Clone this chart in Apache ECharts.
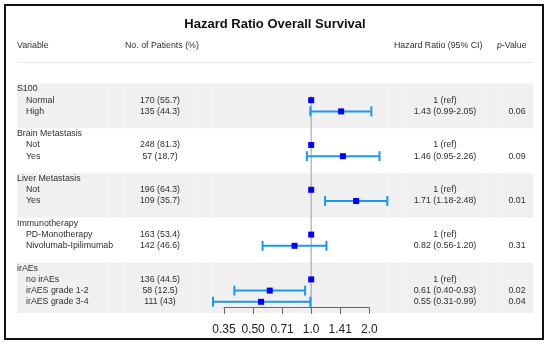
<!DOCTYPE html>
<html><head><meta charset="utf-8">
<script src="https://cdn.jsdelivr.net/npm/echarts@6/dist/echarts.min.js"></script>
<style>html,body{margin:0;padding:0;background:#fff}#c{width:550px;height:345px}</style>
</head><body><div id="c"></div>
<script>
// ---- data ----
const groups = ['S100', 'Brain Metastasis', 'Liver Metastasis', 'Immunotherapy', 'irAEs'];
const levels = [
  ['Normal', 'High'],
  ['Not', 'Yes'],
  ['Not', 'Yes'],
  ['PD-Monotherapy', 'Nivolumab-Ipilimumab'],
  ['no irAEs', 'irAES grade 1-2', 'irAES grade 3-4']
];
const patients = [
  ['170 (55.7)', '135 (44.3)'],
  ['248 (81.3)', '57 (18.7)'],
  ['196 (64.3)', '109 (35.7)'],
  ['163 (53.4)', '142 (46.6)'],
  ['136 (44.5)', '58 (12.5)', '111 (43)']
];
const hazardRatio = [[1, 1.43], [1, 1.46], [1, 1.71], [1, 0.82], [1, 0.61, 0.55]];
const ciLower = [[null, 0.99], [null, 0.95], [null, 1.18], [null, 0.56], [null, 0.40, 0.31]];
const ciUpper = [[null, 2.05], [null, 2.26], [null, 2.48], [null, 1.20], [null, 0.93, 0.99]];
const pValues = [['', '0.06'], ['', '0.09'], ['', '0.01'], ['', '0.31'], ['', '0.02', '0.04']];
const tickValues = [0.35, 0.50, 0.71, 1.0, 1.41, 2.0];
const tickLabels = ['0.35', '0.50', '0.71', '1.0', '1.41', '2.0'];
const headers = ['Variable', 'No. of Patients (%)', 'Hazard Ratio (95% CI)', '-Value'];
const titleText = 'Hazard Ratio Overall Survival';

// ---- layout helpers ----
const FONT = '"Liberation Sans", Arial, Helvetica, sans-serif';
const TXT = '8.8px ' + FONT;
const TCOL = '#2e2e2e';
const COL = { varGroup: 17, varLevel: 26, patients: 160, hr: 445, p: 517 };
const TABLE_L = 17, TABLE_R = 533;
const SEPS = [108, 124, 197, 212, 387.5, 403, 486, 502];

const rows = [];
groups.forEach((g, gi) => {
  rows.push({ kind: 'group', gi, text: g });
  levels[gi].forEach((lv, li) => rows.push({ kind: 'level', gi, li, text: lv }));
  if (gi < groups.length - 1) rows.push({ kind: 'spacer', gi });
});
const rowCats = rows.map((_, i) => String(i));

const bandData = groups.map((g, gi) => {
  const start = rows.findIndex(r => r.kind === 'group' && r.gi === gi);
  return [1, start, start + levels[gi].length, gi];
});
const ciData = [], sqData = [], textData = [];
rows.forEach((r, i) => {
  if (r.kind === 'spacer') return;
  textData.push([1, i]);
  if (r.kind === 'level') {
    sqData.push([hazardRatio[r.gi][r.li], i]);
    const lo = ciLower[r.gi][r.li], hi = ciUpper[r.gi][r.li];
    if (lo != null) ciData.push([lo, hi, i]);
  }
});
function hrLabel(gi, li) {
  const lo = ciLower[gi][li];
  if (lo == null) return '1 (ref)';
  return hazardRatio[gi][li].toFixed(2) + ' (' + lo.toFixed(2) + '-' + ciUpper[gi][li].toFixed(2) + ')';
}
function txt(text, x, y, align, font) {
  return { type: 'text', style: { text, x, y, align, textAlign: align, verticalAlign: 'middle', textVerticalAlign: 'middle', font: font || TXT, fill: TCOL } };
}

const chart = echarts.init(document.getElementById('c'), null, { renderer: 'canvas' });
const option = {
  animation: false,
  backgroundColor: '#fff',
  title: {
    text: titleText, left: 'center', top: 18, padding: 0,
    textStyle: { fontFamily: FONT, fontSize: 13, fontWeight: 'bold', color: '#111' }
  },
  grid: { left: 224, right: 180.7, top: 83.4, bottom: 37.6, containLabel: false },
  xAxis: {
    type: 'log', logBase: Math.SQRT2, min: Math.pow(Math.SQRT2, -3), max: 2, z: 10,
    axisLine: { show: true, lineStyle: { color: '#666', width: 1 } },
    axisTick: { show: true, length: 6.5, lineStyle: { color: '#666', width: 1 } },
    splitLine: { show: false },
    axisLabel: {
      margin: 16, fontSize: 12, fontFamily: FONT, color: '#222',
      showMinLabel: true, showMaxLabel: true,
      formatter: v => {
        let best = 0;
        tickValues.forEach((t, i) => {
          if (Math.abs(Math.log(t / v)) < Math.abs(Math.log(tickValues[best] / v))) best = i;
        });
        return tickLabels[best];
      }
    }
  },
  yAxis: { type: 'category', inverse: true, data: rowCats, show: false },
  graphic: [
    { type: 'rect', shape: { x: 5, y: 5, width: 538, height: 334 }, style: { fill: null, stroke: '#111', lineWidth: 2 }, z: 100 },
    { type: 'line', shape: { x1: TABLE_L, y1: 62.5, x2: TABLE_R, y2: 62.5 }, style: { stroke: '#ececec', lineWidth: 1 } },
    { type: 'text', x: 17, y: 46, style: { text: headers[0], font: TXT, fill: TCOL, textVerticalAlign: 'middle', verticalAlign: 'middle' } },
    { type: 'text', x: 125, y: 46, style: { text: headers[1], font: TXT, fill: TCOL, textVerticalAlign: 'middle', verticalAlign: 'middle' } },
    { type: 'text', x: 394, y: 46, style: { text: headers[2], font: TXT, fill: TCOL, textVerticalAlign: 'middle', verticalAlign: 'middle' } },
    { type: 'text', x: 497, y: 46, style: { text: 'p', font: 'italic ' + TXT, fill: TCOL, textVerticalAlign: 'middle', verticalAlign: 'middle' } },
    { type: 'text', x: 501.8, y: 46, style: { text: headers[3], font: TXT, fill: TCOL, textVerticalAlign: 'middle', verticalAlign: 'middle' } }
  ],
  series: [
    { // group bands
      type: 'custom', z: 0, silent: true, clip: false,
      encode: { x: 0, y: 1 },
      data: bandData,
      renderItem: (params, api) => {
        const gi = api.value(3);
        if (gi % 2 !== 0) return null;
        const step = api.coord([1, 1])[1] - api.coord([1, 0])[1];
        const start = api.value(1), end = api.value(2);
        const isLast = gi === groups.length - 1;
        const y0 = api.coord([1, start])[1] - step / 2;
        const y1 = api.coord([1, end])[1] + (isLast ? 1.0 : 1.5) * step;
        const children = [{ type: 'rect', shape: { x: TABLE_L, y: y0, width: TABLE_R - TABLE_L, height: y1 - y0 }, style: { fill: '#f0f0f0' } }];
        SEPS.forEach(x => children.push({ type: 'line', shape: { x1: x, y1: y0, x2: x, y2: y1 }, style: { stroke: '#f7f7f7', lineWidth: 1 } }));
        return { type: 'group', children };
      }
    },
    { // reference line at HR = 1
      type: 'custom', z: 3, silent: true, clip: false,
      encode: { x: 0, y: 1 },
      data: [[1, 0]],
      renderItem: (params, api) => {
        const step = api.coord([1, 1])[1] - api.coord([1, 0])[1];
        const p = api.coord([1, 0]);
        const yBot = api.coord([1, rows.length - 1])[1] + step / 2;
        return { type: 'line', shape: { x1: p[0], y1: p[1] + 0.62 * step, x2: p[0], y2: yBot }, style: { stroke: '#aaa', lineWidth: 1.2 } };
      }
    },
    { // confidence intervals
      type: 'custom', z: 4, silent: true, clip: false,
      encode: { x: [0, 1], y: 2 },
      data: ciData,
      renderItem: (params, api) => {
        const a = api.coord([api.value(0), api.value(2)]);
        const b = api.coord([api.value(1), api.value(2)]);
        const st = { stroke: '#1a98f0', lineWidth: 2 };
        return { type: 'group', children: [
          { type: 'line', shape: { x1: a[0], y1: a[1], x2: b[0], y2: b[1] }, style: st },
          { type: 'line', shape: { x1: a[0], y1: a[1] - 5, x2: a[0], y2: a[1] + 5 }, style: st },
          { type: 'line', shape: { x1: b[0], y1: b[1] - 5, x2: b[0], y2: b[1] + 5 }, style: st }
        ] };
      }
    },
    { // point estimates
      type: 'scatter', z: 5, silent: true, clip: false,
      symbol: 'rect', symbolSize: 6,
      itemStyle: { color: '#0000ff', opacity: 1 },
      data: sqData
    },
    { // table text
      type: 'custom', z: 6, silent: true, clip: false,
      encode: { x: 0, y: 1 },
      data: textData,
      renderItem: (params, api) => {
        const i = api.value(1);
        const r = rows[i];
        const y = api.coord([1, i])[1];
        if (r.kind === 'group') return txt(r.text, COL.varGroup, y, 'left');
        return { type: 'group', children: [
          txt(r.text, COL.varLevel, y, 'left'),
          txt(patients[r.gi][r.li], COL.patients, y, 'center'),
          txt(hrLabel(r.gi, r.li), COL.hr, y, 'center'),
          txt(pValues[r.gi][r.li], COL.p, y, 'center')
        ] };
      }
    }
  ]
};
chart.setOption(option);
</script>
</body></html>
